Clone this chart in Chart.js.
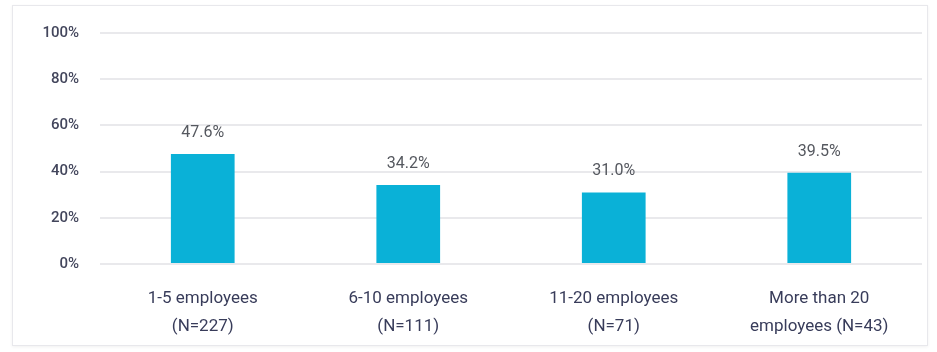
<!DOCTYPE html>
<html>
<head>
<meta charset="utf-8">
<script src="https://cdn.jsdelivr.net/npm/chart.js@4"></script>
<style>
  html, body { margin: 0; padding: 0; background: #fff; }
  #wrap { position: relative; width: 937px; height: 352px; }
  #frame {
    position: absolute; left: 12px; top: 5px; width: 914px; height: 339px;
    border: 1px solid #e8e8ec; box-shadow: 0 1px 3px rgba(0,0,0,0.06);
  }
  #chart { position: absolute; left: 0; top: 0; }
</style>
</head>
<body>
<div id="wrap">
  <div id="frame"></div>
  <canvas id="chart" width="937" height="352"></canvas>
</div>
<script>
const categories = [
  ['1-5 employees', '(N=227)'],
  ['6-10 employees', '(N=111)'],
  ['11-20 employees', '(N=71)'],
  ['More than 20', 'employees (N=43)']
];
const shares = [47.6, 34.2, 31.0, 39.5];
const yTicks = [0, 20, 40, 60, 80, 100];

const ctx = document.getElementById('chart');

// writes the value above each bar
const barValues = {
  id: 'barValues',
  afterDatasetsDraw(chart) {
    const c = chart.ctx;
    const meta = chart.getDatasetMeta(0);
    c.save();
    c.font = '16px Roboto';
    c.fillStyle = '#55585f';
    c.textAlign = 'center';
    c.textBaseline = 'middle';
    meta.data.forEach(function(bar, i) {
      c.fillText(shares[i].toFixed(1) + '%', bar.x, bar.y - 21);
    });
    c.restore();
  }
};

new Chart(ctx, {
  type: 'bar',
  data: {
    labels: categories,
    datasets: [{
      data: shares,
      backgroundColor: '#0ab1d7',
      categoryPercentage: 1,
      barPercentage: 0.31
    }]
  },
  options: {
    responsive: false,
    animation: false,
    layout: {
      padding: { top: 33, right: 15, left: 0, bottom: 0 }
    },
    scales: {
      y: {
        min: 0,
        max: 100,
        afterFit: function(scale) { scale.width = 100; },
        afterBuildTicks: function(scale) {
          scale.ticks = yTicks.map(function(v) { return { value: v }; });
        },
        border: { display: false },
        grid: {
          color: '#e9e9ec',
          lineWidth: 2,
          drawTicks: false
        },
        ticks: {
          padding: 21,
          color: '#43465c',
          font: { family: 'Roboto', size: 15, weight: '500' },
          callback: function(value) { return value + '%'; }
        }
      },
      x: {
        afterFit: function(scale) { scale.height = 352 - 264; },
        border: { display: false },
        grid: { display: false },
        ticks: {
          padding: 13,
          color: '#383c5a',
          maxRotation: 0,
          font: { family: 'Roboto', size: 17, lineHeight: 1.65 }
        }
      }
    },
    plugins: {
      legend: { display: false },
      tooltip: { enabled: false }
    }
  },
  plugins: [barValues]
});
</script>
</body>
</html>
